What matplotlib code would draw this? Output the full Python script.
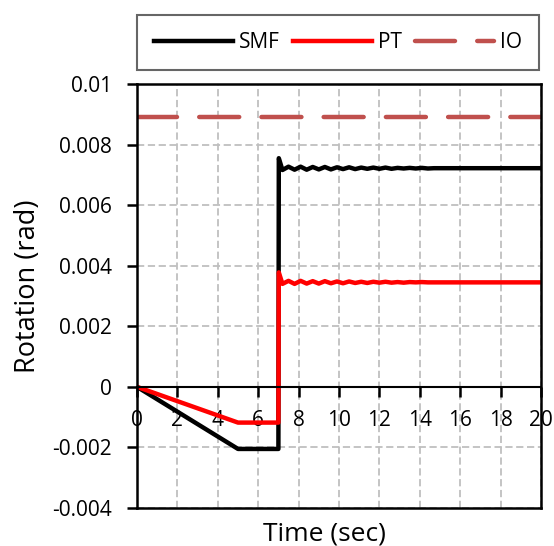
import matplotlib
matplotlib.use("Agg")
import matplotlib.pyplot as plt

# Datos
time = [0, 5, 7, 7.02, 7.2,
        7.5, 7.8, 8.1, 8.4, 8.7, 9.0, 9.3, 9.6, 9.9, 10.2,
        10.5, 10.8, 11.1, 11.4, 11.7, 12.0, 12.3, 12.6, 12.9, 13.2,
        13.5, 13.8, 14.1, 14.4, 14.7, 15.0, 15.3, 15.6, 15.9, 16.2,
        20]
smf = [0, -0.00205, -0.00205, 0.00755, 0.00716,
       0.00727, 0.00717, 0.00727, 0.00717, 0.00726, 0.00718, 0.00726, 0.00718, 0.00725, 0.00719,
       0.00725, 0.00719, 0.00724, 0.00720, 0.00724, 0.00720, 0.00724, 0.00720, 0.00723, 0.00721,
       0.00723, 0.00721, 0.00723, 0.00721, 0.00722, 0.00722, 0.00722, 0.00722, 0.00722, 0.00722,
       0.00722]
pt = [0, -0.00118, -0.00118, 0.00378, 0.00340,
      0.00350, 0.00340, 0.00350, 0.00341, 0.00349, 0.00341, 0.00349, 0.00342, 0.00348, 0.00342,
      0.00348, 0.00343, 0.00347, 0.00343, 0.00347, 0.00344, 0.00347, 0.00344, 0.00346, 0.00344,
      0.00346, 0.00345, 0.00346, 0.00345, 0.00345, 0.00345, 0.00345, 0.00345, 0.00345, 0.00345,
      0.00345]
io_time = [0, 20]
io = [0.0089, 0.0089]

xticks = [0, 2, 4, 6, 8, 10, 12, 14, 16, 18, 20]
yticks = [-0.004, -0.002, 0, 0.002, 0.004, 0.006, 0.008, 0.01]
ylabels = ['-0.004', '-0.002', '0', '0.002', '0.004', '0.006', '0.008', '0.01']

plt.rcParams['font.family'] = ['Open Sans', 'DejaVu Sans']

fig = plt.figure(figsize=(5.54, 5.46), dpi=100)
ax = fig.add_axes([137/554, 38/546, 404/554, 424/546])

ax.plot(time, smf, color='black', lw=3.2, label='SMF', solid_joinstyle='round')
ax.plot(time, pt, color='#FF0000', lw=3.2, label='PT', solid_joinstyle='round')
ax.plot(io_time, io, color='#C0504D', lw=3.2, label='IO',
        dashes=(9.0, 5.0), dash_capstyle='round')

ax.set_xlim(0, 20)
ax.set_ylim(-0.004, 0.01)
ax.set_xticks(xticks)
ax.set_yticks(yticks)
ax.set_yticklabels(ylabels)

# Rejilla discontinua gris
ax.grid(True, color='#BFBFBF', linestyle=(0, (4, 2)), lw=1.3)
ax.set_axisbelow(True)

# Eje x sobre y=0 y marco completo
ax.spines['bottom'].set_position(('data', 0))
for s in ['bottom', 'left', 'right', 'top']:
    ax.spines[s].set_color('black')
    ax.spines[s].set_linewidth(1.8)
ax.spines['bottom'].set_linewidth(1.5)
ax.axhline(-0.004, color='black', lw=1.8, clip_on=False, zorder=5)

ax.tick_params(axis='x', direction='out', length=7, width=1.8, pad=10,
               labelsize=15, colors='black')
ax.tick_params(axis='y', direction='out', length=7, width=1.8, pad=11,
               labelsize=15, colors='black')

ax.set_xlabel('Time (sec)', fontsize=19)
ax.set_ylabel('Rotation (rad)', fontsize=19.5)
ax.xaxis.set_label_coords(0.465, -0.033)
ax.yaxis.set_label_coords(-0.235, 0.524)

leg = ax.legend(loc='center', bbox_to_anchor=(0.4975, 1.098), ncol=3,
                fontsize=15, frameon=True, fancybox=False, edgecolor='#404040',
                handlelength=3.8, handletextpad=0.3, columnspacing=0.6,
                borderpad=0.8, borderaxespad=0)
leg.get_frame().set_linewidth(1.5)

fig.savefig('out.png', dpi=100)
